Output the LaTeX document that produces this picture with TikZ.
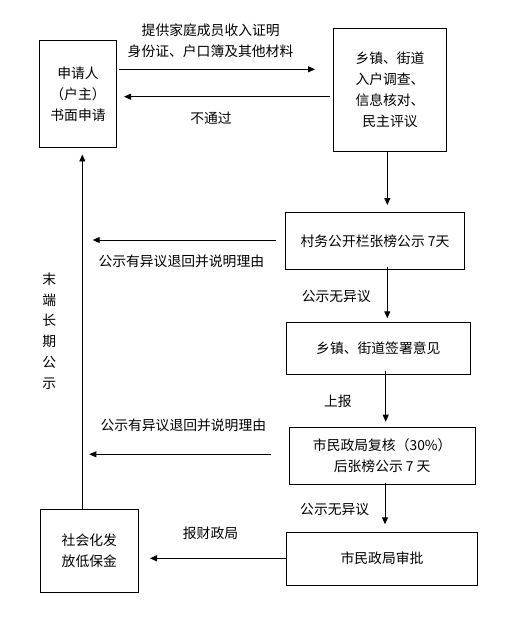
\documentclass[tikz,border=0pt]{standalone}
\usepackage{fontspec}
\newfontfamily\cjk{Noto Sans CJK SC}
\usetikzlibrary{arrows.meta}
\begin{document}
\begin{tikzpicture}[x=1pt,y=-1pt,
  every node/.style={font=\cjk\fontsize{13.8}{21}\selectfont, inner sep=0pt},
  box/.style={draw, line width=0.9pt, align=center},
  lbl/.style={anchor=center},
  arr/.style={line width=0.9pt, -{Triangle[length=7pt,width=6pt]}}]
\useasboundingbox[fill=white] (0,0) rectangle (515,631);
% boxes
\node[box, minimum width=77.4pt, minimum height=107pt] (A) at (78,93.8) {申请人\\（户主）\\书面申请};
\node[box, minimum width=113.4pt, minimum height=123.4pt] (B) at (390,90) {乡镇、街道\\入户调查、\\信息核对、\\民主评议};
\node[box, minimum width=178.6pt, minimum height=57pt] (C) at (375,240.8) {村务公开栏张榜公示 7天};
\node[box, minimum width=183.3pt, minimum height=51.7pt] (D) at (378.3,348.2) {乡镇、街道签署意见};
\node[box, minimum width=185.7pt, minimum height=56.7pt] (E) at (382.2,455.7) {市民政局复核（30\%）\\后张榜公示 7 天};
\node[box, minimum width=190.6pt, minimum height=52.7pt] (G) at (382,558.7) {市民政局审批};
\node[box, minimum width=98pt, minimum height=83.3pt] (F) at (89.3,550.7) {社会化发\\放低保金};
% free ends
\coordinate (c1) at (92.7,240);
\coordinate (c2) at (89.3,454.3);
% arrows between top boxes
\draw[arr] (A.east |- 0,69.3) ++(2,0) coordinate (ab0) -- (315,69.3) coordinate (ab1);
\draw[arr] (B.west |- 0,96.7) ++(-3,0) -- (124,96.7);
\node[lbl] at (210.7,30) {提供家庭成员收入证明};
\node[lbl] at (210.5,51.7) {身份证、户口簿及其他材料};
\node[lbl] at (211,118.3) {不通过};
% vertical flow
\draw[arr] ([yshift=1.5pt]B.south -| 387.3,0) -- (387.3,205);
\draw[arr] ([yshift=3pt]C.south -| 387.3,0) -- (387.3,318.3);
\node[lbl] at (336.3,296.7) {公示无异议};
\draw[arr] ([yshift=4pt]D.south -| 385.7,0) -- (385.7,421.7);
\node[lbl] at (337.8,401) {上报};
\draw[arr] ([yshift=2pt]E.south -| 385,0) -- (385,524.3);
\node[lbl] at (334.7,509) {公示无异议};
% return arrows
\draw[arr] ([xshift=-9.7pt]C.west |- c1) -- (c1);
\node[lbl] at (181.3,261.7) {公示有异议退回并说明理由};
\draw[arr] ([xshift=-17.6pt]E.west |- c2) -- (c2);
\node[lbl] at (183.3,425) {公示有异议退回并说明理由};
\draw[arr] (G.west |- 0,558.3) -- (150,558.3);
\node[lbl] at (210.5,533.3) {报财政局};
% left vertical return
\draw[arr] (F.north -| 82.3,0) -- (82.3,154.5);
\node[lbl, align=center, font=\cjk\fontsize{13.8}{20.8}\selectfont] at (49.3,331) {末\\端\\长\\期\\公\\示};
\end{tikzpicture}
\end{document}
